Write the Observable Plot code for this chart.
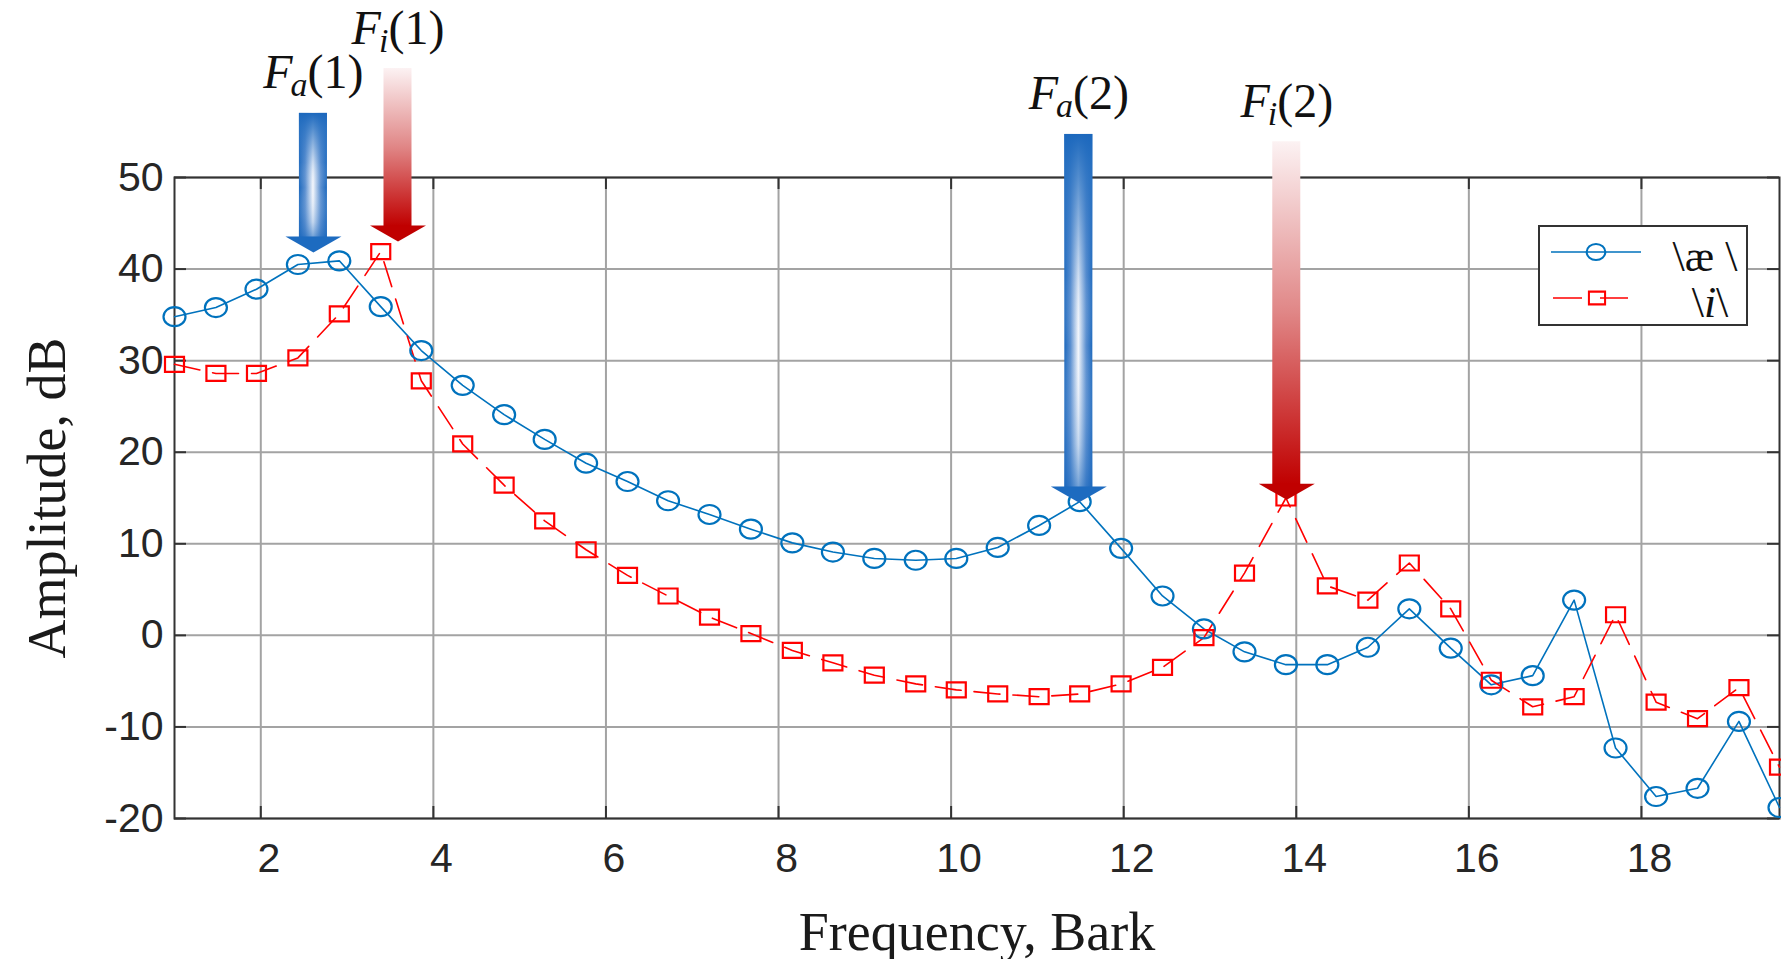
<!DOCTYPE html>
<html>
<head>
<meta charset="utf-8">
<script src="https://cdn.jsdelivr.net/npm/d3@7"></script>
<script src="https://cdn.jsdelivr.net/npm/@observablehq/plot@0.6"></script>
<style>
  html, body { margin: 0; padding: 0; background: #fff; overflow: hidden; }
  #chart { position: relative; width: 1781px; height: 959px; }
  #legend { position: absolute; left: 1529px; top: 216px; width: 240px; height: 130px; }
  #legend svg { display: block; overflow: visible; }
</style>
</head>
<body>
<div id="chart"></div>
<script>
// ---- data ----
const bark = [1.00, 1.48, 1.95, 2.43, 2.91, 3.39, 3.86, 4.34, 4.82, 5.29, 5.77, 6.25, 6.72, 7.20, 7.68, 8.16, 8.63, 9.11, 9.59, 10.06,
              10.54, 11.02, 11.49, 11.97, 12.45, 12.93, 13.40, 13.88, 14.36, 14.83, 15.31, 15.79, 16.26, 16.74, 17.22, 17.70, 18.17, 18.65, 19.13, 19.60];
const aeDb = [34.8, 35.8, 37.8, 40.5, 40.9, 35.9, 31.1, 27.3, 24.1, 21.4, 18.8, 16.8, 14.7, 13.2, 11.6, 10.1, 9.1, 8.4, 8.2, 8.4,
              9.6, 12.0, 14.6, 9.5, 4.3, 0.7, -1.8, -3.2, -3.2, -1.3, 2.9, -1.4, -5.4, -4.4, 3.85, -12.3, -17.6, -16.7, -9.4, -18.8];
const iDb  = [29.6, 28.6, 28.6, 30.3, 35.1, 41.9, 27.8, 20.9, 16.4, 12.5, 9.35, 6.55, 4.3, 2.0, 0.2, -1.65, -3.0, -4.35, -5.3, -5.95,
              -6.4, -6.7, -6.4, -5.3, -3.5, -0.25, 6.8, 15.0, 5.4, 3.85, 7.9, 2.9, -4.9, -7.8, -6.7, 2.25, -7.3, -9.1, -5.7, -14.4];
const xTicks = [2, 4, 6, 8, 10, 12, 14, 16, 18];
const yTicks = [-20, -10, 0, 10, 20, 30, 40, 50];
const xDomain = [1, 19.6];
const yDomain = [-20, 50];
const seriesNames = ["\\æ \\", "\\i\\"];
const xLabel = "Frequency, Bark";
const yLabel = "Amplitude, dB";
// formant annotations
const formantLabels = ["F_a(1)", "F_i(1)", "F_a(2)", "F_i(2)"];
const formantVowel  = ["ae", "i", "ae", "i"];
const formantBark   = [2.61, 3.59, 11.48, 13.89];
const formantTipDb  = [41.8, 43.0, 14.5, 14.8];
const formantTopDb  = [57.0, 61.9, 54.7, 53.9];

// ---- tables ----
const spectra = bark.map((b, k) => ({bark: b, ae: aeDb[k], i: iDb[k]}));
const formants = formantLabels.map((l, k) => ({label: l, vowel: formantVowel[k], bark: formantBark[k], tip: formantTipDb[k], top: formantTopDb[k]}));
const fAe = formants.filter(d => d.vowel === "ae");
const fI = formants.filter(d => d.vowel === "i");

// ---- layout / style ----
const W = 1781, H = 959, mL = 174, mR = 2, mT = 177, mB = 141;
const innerW = W - mL - mR, innerH = H - mT - mB;
const tickLen = 12;
const BLUE = "#0072BD", RED = "#FF0000";
const HEAD_BLUE = "#1d6bc0", HEAD_RED = "#c00000";
const headW = 56, headH = 16, shaftHalf = 14;

// custom marker symbols (pixel sizes)
const ellipseSym = {draw(ctx) {
  const rx = 11, ry = 9.5, k = 0.5523;
  ctx.moveTo(rx, 0);
  ctx.bezierCurveTo(rx, ry * k, rx * k, ry, 0, ry);
  ctx.bezierCurveTo(-rx * k, ry, -rx, ry * k, -rx, 0);
  ctx.bezierCurveTo(-rx, -ry * k, -rx * k, -ry, 0, -ry);
  ctx.bezierCurveTo(rx * k, -ry, rx, -ry * k, rx, 0);
  ctx.closePath();
}};
const rectSym = {draw(ctx) {
  const w = 9.5, h = 7.5;
  ctx.moveTo(-w, -h); ctx.lineTo(w, -h); ctx.lineTo(w, h); ctx.lineTo(-w, h); ctx.closePath();
}};
const headSym = {draw(ctx) {
  ctx.moveTo(-headW / 2, -headH); ctx.lineTo(headW / 2, -headH); ctx.lineTo(0, 0); ctx.closePath();
}};

const sans = "'Liberation Sans', Arial, Helvetica, sans-serif";
const serif = "'Liberation Serif', 'Times New Roman', Times, serif";

const plot = Plot.plot({
  width: W, height: H,
  marginLeft: mL, marginRight: mR, marginTop: mT, marginBottom: mB,
  style: {fontFamily: sans, fontSize: "41px", color: "#262626", background: "transparent", overflow: "visible"},
  x: {domain: xDomain},
  y: {domain: yDomain},
  marks: [
    Plot.gridX(xTicks, {stroke: "#a3a3a3", strokeOpacity: 1, strokeWidth: 2}),
    Plot.gridY(yTicks, {stroke: "#a3a3a3", strokeOpacity: 1, strokeWidth: 2}),
    // inward ticks on all four sides
    Plot.tickX(xTicks, {x: d => d, insetTop: innerH - tickLen, stroke: "#333", strokeWidth: 2}),
    Plot.tickX(xTicks, {x: d => d, insetBottom: innerH - tickLen, stroke: "#333", strokeWidth: 2}),
    Plot.tickY(yTicks, {y: d => d, insetRight: innerW - tickLen, stroke: "#333", strokeWidth: 2}),
    Plot.tickY(yTicks, {y: d => d, insetLeft: innerW - tickLen, stroke: "#333", strokeWidth: 2}),
    Plot.frame({stroke: "#333", strokeWidth: 2}),
    Plot.axisX(xTicks, {tickSize: 0, tickPadding: 24, dx: 8, fontSize: 41, label: null, fill: "#262626", tickFormat: d => String(d)}),
    Plot.axisY(yTicks, {tickSize: 0, tickPadding: 11, fontSize: 41, label: null, fill: "#262626", tickFormat: d => String(d)}),
    // axis titles
    Plot.text([xLabel], {frameAnchor: "bottom", dy: 131, lineAnchor: "bottom", textAnchor: "middle", fontFamily: serif, fontSize: 54, fill: "#1a1a1a"}),
    Plot.text([yLabel], {frameAnchor: "left", dx: -110, rotate: -90, lineAnchor: "bottom", textAnchor: "middle", fontFamily: serif, fontSize: 54, fill: "#1a1a1a"}),
    // spectra
    Plot.line(spectra, {x: "bark", y: "ae", stroke: BLUE, strokeWidth: 1.6}),
    Plot.line(spectra, {x: "bark", y: "i", stroke: RED, strokeWidth: 1.6, strokeDasharray: "26,13"}),
    Plot.dot(spectra, {x: "bark", y: "ae", symbol: ellipseSym, fill: "none", stroke: BLUE, strokeWidth: 2.2}),
    Plot.dot(spectra, {x: "bark", y: "i", symbol: rectSym, fill: "none", stroke: RED, strokeWidth: 2.2}),
    // formant arrows
    Plot.rect(fAe, {x1: "bark", x2: "bark", y1: "tip", y2: "top", insetLeft: -shaftHalf, insetRight: -shaftHalf, insetBottom: headH - 1, fill: "url(#blueShaftH)"}),
    Plot.rect(fAe, {x1: "bark", x2: "bark", y1: "tip", y2: "top", insetLeft: -shaftHalf, insetRight: -shaftHalf, insetBottom: headH - 1, fill: "url(#blueShaftV)"}),
    Plot.rect(fI, {x1: "bark", x2: "bark", y1: "tip", y2: "top", insetLeft: -shaftHalf, insetRight: -shaftHalf, insetBottom: headH - 1, fill: "url(#redShaft)"}),
    Plot.dot(fAe, {x: "bark", y: "tip", symbol: headSym, fill: HEAD_BLUE, stroke: "none"}),
    Plot.dot(fI, {x: "bark", y: "tip", symbol: headSym, fill: HEAD_RED, stroke: "none"}),
    Plot.text(formants, {x: "bark", y: "top", text: "label", dy: -25, lineAnchor: "bottom", textAnchor: "middle",
      fontFamily: serif, fontSize: 48, fill: "#111"})
  ]
});

// gradients
const svg = d3.select(plot);
const defs = svg.insert("defs", ":first-child");
function grad(id, vertical, stops) {
  const g = defs.append("linearGradient").attr("id", id)
    .attr("x1", 0).attr("y1", 0).attr("x2", vertical ? 0 : 1).attr("y2", vertical ? 1 : 0);
  for (const [o, c, a] of stops) g.append("stop").attr("offset", o).attr("stop-color", c).attr("stop-opacity", a);
}
grad("blueShaftH", false, [[0, "#1c68bd", 1], [0.22, "#5a8fd0", 1], [0.5, "#f4f7fc", 1], [0.78, "#5a8fd0", 1], [1, "#1c68bd", 1]]);
grad("blueShaftV", true, [[0, "#1c68bd", 1], [0.12, "#2a72c2", 0.8], [0.4, "#3d7dc8", 0.2], [0.6, "#ffffff", 0], [0.88, "#3d7dc8", 0.25], [1, "#1c68bd", 0.6]]);
grad("redShaft", true, [[0, "#fcf2f3", 1], [0.5, "#e08686", 1], [1, "#c00000", 1]]);

// formant labels: italic F with italic subscript, upright "(n)"
svg.selectAll("text").filter(function () { return /^F_\w\(\d\)$/.test(this.textContent); }).each(function () {
  const m = this.textContent.match(/^(\w)_(\w)(.*)$/);
  this.textContent = "";
  const el = d3.select(this);
  el.append("tspan").attr("font-style", "italic").text(m[1]);
  el.append("tspan").attr("font-style", "italic").attr("font-size", "34px").attr("dx", "-2").attr("dy", "8").text(m[2]);
  el.append("tspan").attr("dy", "-8").text(m[3]);
});

const chart = document.getElementById("chart");
chart.appendChild(plot);

// legend (inside the axes box)
const legend = d3.select(chart).append("div").attr("id", "legend");
const ls = legend.append("svg").attr("width", 240).attr("height", 130);
ls.append("rect").attr("x", 10).attr("y", 10).attr("width", 208).attr("height", 99)
  .attr("fill", "#fff").attr("stroke", "#333").attr("stroke-width", 2);
const rows = [
  {name: seriesNames[0], color: BLUE, dash: null, sym: ellipseSym, y: 36, tx: 176, ty: 55, x1: 22, x2: 112, mx: 67},
  {name: seriesNames[1], color: RED, dash: "29,18", sym: rectSym, y: 82, tx: 181, ty: 101, x1: 24, x2: 99, mx: 68}
];
for (const r of rows) {
  ls.append("line").attr("x1", r.x1).attr("x2", r.x2).attr("y1", r.y).attr("y2", r.y)
    .attr("stroke", r.color).attr("stroke-width", 1.6).attr("stroke-dasharray", r.dash);
  ls.append("path").attr("d", d3.symbol(r.sym)()).attr("transform", `translate(${r.mx},${r.y}) scale(0.85)`)
    .attr("fill", "none").attr("stroke", r.color).attr("stroke-width", 2.4);
  const tx = ls.append("text").attr("x", r.tx).attr("y", r.ty).attr("text-anchor", "middle")
    .attr("font-family", serif).attr("font-size", 44).attr("fill", "#111");
  // italicize the letter i only
  for (const part of r.name.split(/(i)/)) {
    if (!part) continue;
    const sp = tx.append("tspan").text(part);
    if (part === "i") sp.attr("font-style", "italic");
  }
}
</script>
</body>
</html>
